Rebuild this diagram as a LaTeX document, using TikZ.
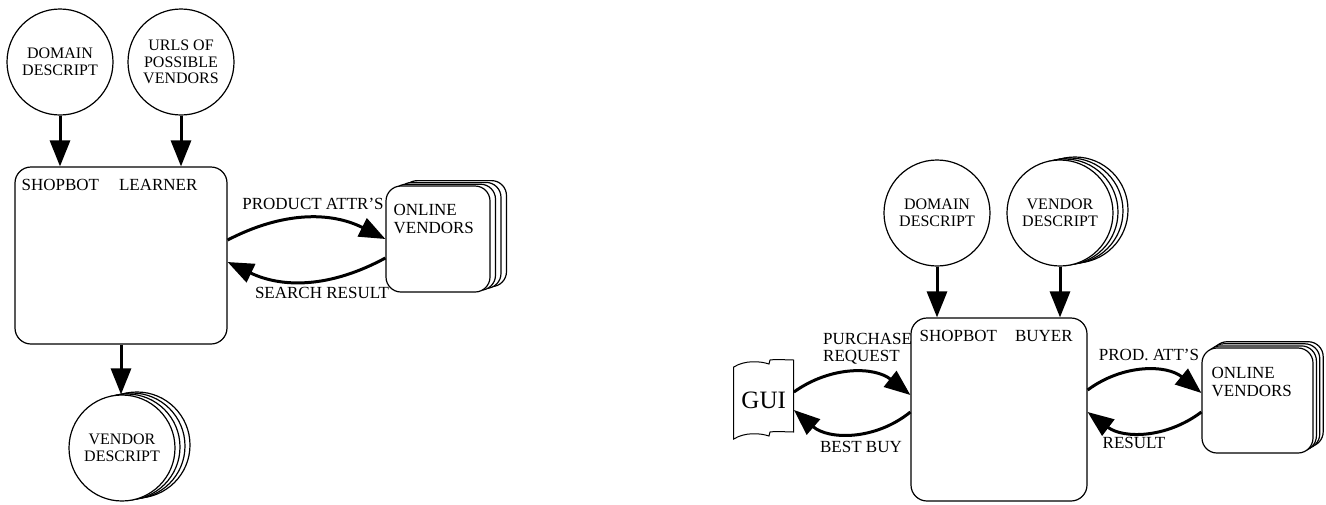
\documentclass[tikz,border=0pt]{standalone}
\usepackage{fontspec}
\setmainfont{Liberation Serif}
\usetikzlibrary{arrows.meta}

\begin{document}
\begin{tikzpicture}[x=1pt,y=-1pt,
  every node/.style={font=\fontsize{17}{17.5}\selectfont},
  store/.style={circle,draw,fill=white,line width=1.2pt,minimum size=106pt,inner sep=0pt,align=center,font=\fontsize{16}{16.5}\selectfont},
  agent/.style={draw,fill=white,rounded corners=16pt,line width=1.2pt,inner sep=0pt},
  site/.style={draw,fill=white,rounded corners=15pt,line width=1.2pt,inner sep=0pt},
  flow/.style={line width=3pt,-{Triangle[length=26pt,width=20pt]}},
  title/.style={anchor=north west,inner sep=0pt,align=left}]
\useasboundingbox (0,0) rectangle (1326,504);
% learner side
\node[store] (domL) at (60,62) {DOMAIN\\DESCRIPT};
\node[store] (urls) at (181,62) {URLS OF\\POSSIBLE\\VENDORS};
\node[agent,minimum width=212pt,minimum height=177pt] (learner) at (121,255.5) {};
\node[title] (learnerT) at ([xshift=7pt,yshift=-13pt]learner.north west) {SHOPBOT\hspace{20pt}LEARNER};
\foreach \k in {3,2,1}
  \node[site,minimum width=104pt,minimum height=106pt] at (438+5.5*\k,239-1.8*\k) {};
\node[site,minimum width=104pt,minimum height=106pt] (vendL) at (438,239) {};
\node[title] (vendLT) at ([xshift=8pt,yshift=-19pt]vendL.north west) {ONLINE\\VENDORS};
\foreach \k in {3,2,1}
  \node[store] at (122+5*\k,448-1*\k) {};
\node[store] (vdescL) at (122,448) {VENDOR\\DESCRIPT};
\draw[flow] (domL.south) -- (domL.south |- learner.north);
\draw[flow] (urls.south) -- (urls.south |- learner.north);
\draw[flow] (learner.south) -- (learner.south |- vdescL.north);
\draw[flow] ([yshift=15.5pt]learner.east) to[bend left=27] (vendL.west);
\draw[flow] ([yshift=-19pt]vendL.west) to[bend left=27] ([yshift=-6.5pt]learner.east);
\node (lblAttr) at (313,204) {PRODUCT ATTR{\char"27}S};
\node (lblSearch) at (322,293) {SEARCH RESULT};
% buyer side
\node[store] (domR) at (937,213) {DOMAIN\\DESCRIPT};
\foreach \k in {3,2,1}
  \node[store] at (1060+5*\k,213-1*\k) {};
\node[store] (vdescR) at (1060,213) {VENDOR\\DESCRIPT};
\node[agent,minimum width=176pt,minimum height=183pt] (buyer) at (999,409.5) {};
\node[title] (buyerT) at ([xshift=9pt,yshift=-13pt]buyer.north west) {SHOPBOT\hspace{18pt}BUYER};
\foreach \k in {3,2,1}
  \node[site,minimum width=111pt,minimum height=105pt] at (1257.5+3.4*\k,400.5-2.1*\k) {};
\node[site,minimum width=111pt,minimum height=105pt] (vendR) at (1257.5,400.5) {};
\node[title] (vendRT) at ([xshift=10pt,yshift=-20pt]vendR.north west) {ONLINE\\VENDORS};
% gui sheet
\draw[line width=1pt] (733.7,367) .. controls (745,360) and (760,361) .. (769,364) -- (770,360)
  .. controls (778,359) and (786,360) .. (793.7,360) -- (793.7,432)
  .. controls (786,432) and (778,431) .. (770,432) -- (769,436)
  .. controls (760,433) and (745,432) .. (733.7,439) -- cycle;
\node[minimum width=60pt,minimum height=66pt,inner sep=0pt,font=\fontsize{25}{26}\selectfont] (gui) at (763.7,400) {GUI};
\draw[flow] (domR.south) -- (domR.south |- buyer.north);
\draw[flow] (vdescR.south) -- (vdescR.south |- buyer.north);
\draw[flow] ([yshift=8pt]gui.east) to[bend left=37] ([yshift=14.5pt]buyer.west);
\draw[flow] ([yshift=-2.5pt]buyer.west) to[bend left=40] ([yshift=-10pt]gui.east);
\draw[flow] ([yshift=19.5pt]buyer.east) to[bend left=38] ([yshift=7.5pt]vendR.west);
\draw[flow] ([yshift=-11.5pt]vendR.west) to[bend left=37] ([yshift=-2.5pt]buyer.east);
\node[anchor=north west,align=left,inner sep=0pt] (lblPurchase) at (823,333) {PURCHASE\\REQUEST};
\node (lblBest) at (861,447) {BEST BUY};
\node (lblProd) at (1149,355) {PROD. ATT{\char"27}S};
\node (lblResult) at (1134,443) {RESULT};
\end{tikzpicture}
\end{document}
